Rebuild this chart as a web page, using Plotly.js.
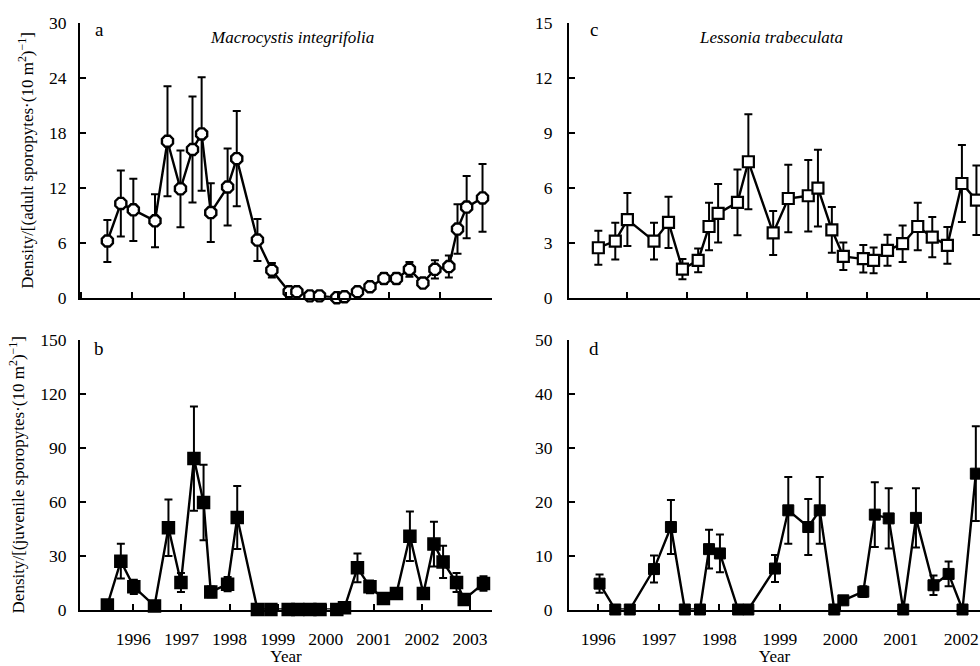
<!DOCTYPE html>
<html>
<head>
<meta charset="utf-8">
<script src="https://cdn.plot.ly/plotly-3.0.1.min.js"></script>
<style>
html,body{margin:0;padding:0;background:#fff;overflow:hidden;}
#chart{width:980px;height:666px;}
</style>
</head>
<body>
<div id="chart"></div>
<script>
// ---- Data ----
// a: Macrocystis integrifolia, adult sporophytes
const macroAdultYear = [1995.46,1995.74,1996.00,1996.45,1996.71,1996.98,1997.23,1997.42,1997.61,1997.96,1998.15,1998.58,1998.88,1999.24,1999.40,1999.67,1999.87,2000.23,2000.39,2000.66,2000.92,2001.21,2001.47,2001.74,2002.02,2002.27,2002.56,2002.74,2002.93,2003.26];
const macroAdultDensity = [6.2,10.3,9.6,8.4,17.1,11.9,16.2,17.9,9.3,12.1,15.2,6.3,3.0,0.65,0.65,0.2,0.2,0,0.1,0.65,1.2,2.1,2.1,3.1,1.6,3.1,3.4,7.5,9.9,10.9];
const macroAdultSE = [2.3,3.6,3.4,2.9,6.0,4.2,5.8,6.2,3.2,4.2,5.2,2.3,0.8,0.3,0.3,0.2,0.2,0,0.2,0.3,0.4,0.6,0.6,0.8,0.3,1.0,1.2,2.7,3.4,3.7];

// b: Macrocystis integrifolia, juvenile sporophytes
const macroJuvYear = [1995.46,1995.74,1996.01,1996.44,1996.73,1996.99,1997.26,1997.46,1997.61,1997.96,1998.16,1998.58,1998.86,1999.22,1999.42,1999.67,1999.88,2000.23,2000.39,2000.66,2000.92,2001.20,2001.47,2001.75,2002.03,2002.25,2002.44,2002.72,2002.88,2003.28];
const macroJuvDensity = [2.5,26.9,12.6,2.0,45.5,15.0,84.0,59.6,9.8,14.1,51.2,0,0,0,0,0,0,0,1.0,23.2,12.6,6.1,8.9,40.8,8.9,36.4,26.5,15.0,5.6,14.5];
const macroJuvSE = [1.0,9.7,4.0,1.0,15.7,5.3,29.0,21.0,3.0,4.0,17.5,0,0,0,0,0,0,0,0.5,8.0,3.5,1.5,2.0,13.8,2.8,12.5,9.0,5.3,1.5,4.0];

// c: Lessonia trabeculata, adult sporophytes
const lessAdultYear = [1996.00,1996.28,1996.48,1996.92,1997.16,1997.39,1997.65,1997.83,1997.98,1998.30,1998.48,1998.89,1999.14,1999.47,1999.63,1999.86,2000.05,2000.38,2000.55,2000.78,2001.03,2001.28,2001.52,2001.77,2002.01,2002.25];
const lessAdultDensity = [2.73,3.09,4.27,3.09,4.12,1.56,2.04,3.89,4.61,5.21,7.43,3.54,5.42,5.57,5.99,3.71,2.26,2.13,2.04,2.59,2.95,3.89,3.31,2.86,6.24,5.33];
const lessAdultSE = [0.93,1.0,1.45,1.0,1.4,0.55,0.65,1.3,1.6,1.8,2.6,1.2,1.85,1.95,2.1,1.25,0.75,0.75,0.7,0.85,1.0,1.3,1.1,1.0,2.1,1.9];

// d: Lessonia trabeculata, juvenile sporophytes
const lessJuvYear = [1996.02,1996.28,1996.52,1996.92,1997.20,1997.43,1997.68,1997.83,1998.01,1998.31,1998.48,1998.92,1999.14,1999.47,1999.66,1999.90,2000.05,2000.38,2000.57,2000.80,2001.04,2001.25,2001.54,2001.79,2002.02,2002.24];
const lessJuvDensity = [4.8,0,0,7.5,15.3,0,0,11.2,10.4,0,0,7.6,18.4,15.3,18.4,0,1.7,3.3,17.6,16.9,0,17.0,4.5,6.6,0,25.2];
const lessJuvSE = [1.7,0,0,2.5,5.0,0,0,3.6,3.5,0,0,2.5,6.2,5.2,6.2,0,0.5,1.0,6.0,5.6,0,5.5,1.8,2.3,0,8.8];

const yearTicks = [1996,1997,1998,1999,2000,2001,2002,2003];
const yearTickLabels = ['1996','1997','1998','1999','2000','2001','2002','2003'];

// ---- Layout helpers ----
const W = 980, H = 666;
const px = v => v / W;
const py = v => 1 - v / H;
const FONT = 'Liberation Serif, Times New Roman, serif';
const INK = '#000';

function series(x, y, err, xa, ya, marker) {
  return {
    type: 'scatter', mode: 'lines+markers',
    x: x, y: y, xaxis: xa, yaxis: ya,
    line: {color: INK, width: 2.4},
    marker: marker,
    error_y: {type: 'data', array: err, visible: true, color: INK, thickness: 2, width: 4},
    cliponaxis: false, showlegend: false, hoverinfo: 'x+y'
  };
}

const traces = [
  series(macroAdultYear, macroAdultDensity, macroAdultSE, 'x', 'y',
    {symbol: 'octagon', size: 12, color: '#fff', line: {color: INK, width: 2.4}}),
  series(lessAdultYear, lessAdultDensity, lessAdultSE, 'x2', 'y2',
    {symbol: 'square', size: 11, color: '#fff', line: {color: INK, width: 2.2}}),
  series(macroJuvYear, macroJuvDensity, macroJuvSE, 'x3', 'y3',
    {symbol: 'square', size: 12, color: INK, line: {color: INK, width: 1.5}}),
  series(lessJuvYear, lessJuvDensity, lessJuvSE, 'x4', 'y4',
    {symbol: 'square', size: 11, color: INK, line: {color: INK, width: 1}})
];

const baseAxis = {
  showgrid: false, zeroline: false, showline: true, linecolor: INK, linewidth: 2,
  ticks: 'inside', ticklen: 6, tickwidth: 2, tickcolor: INK,
  tickfont: {family: FONT, size: 17.5, color: INK}, fixedrange: true
};

const topDomain = [py(297.7), py(23.2)];
const botDomain = [py(609.5), py(340)];
const leftDomain = [px(80), px(492)];
const rightDomain = [px(569), 1];
const leftRange = [1994.891, 2003.457];
const rightRange = [1995.515, 2002.309];

const yTitleFont = {family: FONT, size: 17, color: INK};

const layout = {
  width: W, height: H,
  margin: {l: 0, r: 0, t: 0, b: 0},
  paper_bgcolor: '#fff', plot_bgcolor: '#fff',
  font: {family: FONT, color: INK},
  xaxis: Object.assign({}, baseAxis, {domain: leftDomain, range: leftRange, anchor: 'y',
    tickmode: 'linear', tick0: 1995.98, dtick: 1.067, showticklabels: false}),
  yaxis: Object.assign({}, baseAxis, {domain: topDomain, range: [0, 30], anchor: 'x',
    tickmode: 'linear', tick0: 0, dtick: 6, ticklabelstandoff: 8,
    title: {text: 'Density/[(adult sporopytes·(10 m<sup>2</sup>)<sup>−1</sup>]', font: yTitleFont, standoff: 11}}),
  xaxis2: Object.assign({}, baseAxis, {domain: rightDomain, range: rightRange, anchor: 'y2',
    tickmode: 'linear', tick0: 1996.48, dtick: 0.99, showticklabels: false}),
  yaxis2: Object.assign({}, baseAxis, {domain: topDomain, range: [0, 15], anchor: 'x2',
    tickmode: 'linear', tick0: 0, dtick: 3, ticklabelstandoff: 11}),
  xaxis3: Object.assign({}, baseAxis, {domain: leftDomain, range: leftRange, anchor: 'y3',
    tickmode: 'array', tickvals: yearTicks, ticktext: yearTickLabels, ticklabelstandoff: 12,
    title: {text: 'Year', font: {family: FONT, size: 17, color: INK}, standoff: 10}}),
  yaxis3: Object.assign({}, baseAxis, {domain: botDomain, range: [0, 150], anchor: 'x3',
    tickmode: 'linear', tick0: 0, dtick: 30, ticklabelstandoff: 8,
    title: {text: 'Density/[(juvenile sporopytes·(10 m<sup>2</sup>)<sup>−1</sup>]', font: yTitleFont, standoff: 11}}),
  xaxis4: Object.assign({}, baseAxis, {domain: rightDomain, range: rightRange, anchor: 'y4',
    tickmode: 'array', tickvals: yearTicks, ticktext: yearTickLabels, ticklabelstandoff: 12,
    title: {text: 'Year', font: {family: FONT, size: 17, color: INK}, standoff: 10}}),
  yaxis4: Object.assign({}, baseAxis, {domain: botDomain, range: [0, 50], anchor: 'x4',
    tickmode: 'linear', tick0: 0, dtick: 10, ticklabelstandoff: 11}),
  annotations: [
    {text: 'a', x: px(93), y: py(30), xref: 'paper', yref: 'paper', xanchor: 'left', yanchor: 'middle', showarrow: false, font: {family: FONT, size: 19, color: INK}},
    {text: 'c', x: px(588), y: py(30), xref: 'paper', yref: 'paper', xanchor: 'left', yanchor: 'middle', showarrow: false, font: {family: FONT, size: 19, color: INK}},
    {text: 'b', x: px(92), y: py(348), xref: 'paper', yref: 'paper', xanchor: 'left', yanchor: 'middle', showarrow: false, font: {family: FONT, size: 19, color: INK}},
    {text: 'd', x: px(587), y: py(348), xref: 'paper', yref: 'paper', xanchor: 'left', yanchor: 'middle', showarrow: false, font: {family: FONT, size: 19, color: INK}},
    {text: '<i>Macrocystis integrifolia</i>', x: px(292), y: py(37), xref: 'paper', yref: 'paper', xanchor: 'center', yanchor: 'middle', showarrow: false, font: {family: FONT, size: 17, color: INK}},
    {text: '<i>Lessonia trabeculata</i>', x: px(771), y: py(37), xref: 'paper', yref: 'paper', xanchor: 'center', yanchor: 'middle', showarrow: false, font: {family: FONT, size: 17, color: INK}}
  ]
};

Plotly.newPlot('chart', traces, layout, {staticPlot: true, displayModeBar: false});
</script>
</body>
</html>
